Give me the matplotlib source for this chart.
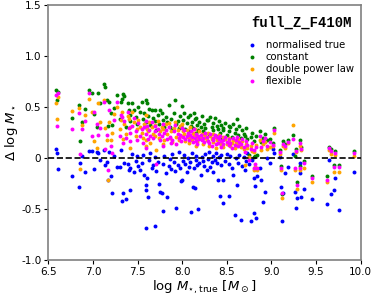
import matplotlib
matplotlib.use("Agg")
import matplotlib.pyplot as plt

# true stellar mass of each galaxy and the offset of each SFH fit
log_mass_true = [
    6.59, 6.60, 6.61, 6.77, 6.84, 6.85, 6.88, 6.91, 6.96, 6.99,
    7.01, 7.04, 7.06, 7.08, 7.12, 7.14, 7.16, 7.17, 7.18, 7.20,
    7.21, 7.24, 7.27, 7.30, 7.32, 7.33, 7.34, 7.35, 7.37, 7.39,
    7.40, 7.42, 7.42, 7.44, 7.46, 7.48, 7.49, 7.51, 7.53, 7.55,
    7.56, 7.57, 7.59, 7.60, 7.60, 7.61, 7.62, 7.63, 7.64, 7.66,
    7.67, 7.69, 7.70, 7.71, 7.73, 7.74, 7.75, 7.77, 7.78, 7.79,
    7.80, 7.82, 7.83, 7.85, 7.86, 7.88, 7.89, 7.91, 7.92, 7.93,
    7.95, 7.96, 7.98, 7.99, 8.00, 8.01, 8.02, 8.03, 8.05, 8.06,
    8.08, 8.09, 8.10, 8.11, 8.12, 8.13, 8.14, 8.15, 8.16, 8.17,
    8.18, 8.19, 8.21, 8.22, 8.23, 8.25, 8.26, 8.28, 8.29, 8.30,
    8.31, 8.33, 8.34, 8.35, 8.37, 8.38, 8.39, 8.40, 8.41, 8.42,
    8.43, 8.44, 8.46, 8.46, 8.48, 8.50, 8.52, 8.53, 8.54, 8.56,
    8.57, 8.59, 8.60, 8.61, 8.62, 8.64, 8.66, 8.67, 8.69, 8.70,
    8.72, 8.73, 8.75, 8.77, 8.78, 8.80, 8.81, 8.82, 8.83, 8.84,
    8.87, 8.88, 8.90, 8.93, 8.95, 8.98, 9.02, 9.03, 9.10, 9.11,
    9.12, 9.13, 9.15, 9.19, 9.24, 9.26, 9.28, 9.29, 9.32, 9.32,
    9.33, 9.37, 9.46, 9.62, 9.65, 9.67, 9.70, 9.71, 9.76, 9.93,
]
d_norm_true = [
    0.09, 0.05, -0.11, -0.18, -0.28, -0.05, 0.02, -0.14, 0.07, 0.07,
    -0.11, 0.06, 0.05, -0.02, 0.08, -0.07, -0.04, -0.22, 0.06, -0.18,
    -0.34, 0.02, -0.09, -0.09, 0.08, -0.42, -0.34, -0.05, -0.40, -0.06,
    -0.12, -0.31, -0.10, 0.04, -0.14, -0.03, 0.02, -0.08, -0.12, -0.05,
    0.03, -0.17, -0.31, -0.26, -0.69, -0.20, -0.38, -0.02, 0.05, -0.10,
    -0.07, 0.01, -0.67, -0.13, -0.04, -0.25, -0.33, -0.34, -0.52, -0.06,
    0.02, -0.15, -0.38, -0.08, -0.01, -0.11, 0.04, -0.04, -0.13, -0.49,
    -0.07, 0.06, -0.10, -0.23, -0.22, -0.03, 0.03, -0.06, -0.14, 0.00,
    -0.09, -0.04, -0.53, 0.05, -0.28, -0.10, -0.29, -0.02, 0.02, -0.07,
    -0.50, -0.05, -0.17, 0.01, -0.03, -0.08, 0.04, -0.12, -0.01, 0.06,
    -0.09, -0.04, 0.02, -0.14, -0.02, 0.05, -0.05, -0.22, 0.01, -0.37,
    -0.07, 0.03, -0.44, -0.22, -0.03, 0.04, -0.37, -0.06, 0.02, -0.10,
    -0.17, -0.56, 0.00, -0.26, -0.05, 0.03, -0.61, -0.08, 0.01, -0.12,
    -0.03, 0.05, -0.06, -0.62, -0.02, -0.20, -0.54, -0.27, -0.59, -0.18,
    -0.10, -0.22, -0.43, -0.33, 0.00, -0.05, 0.09, 0.05, 0.01, -0.28,
    -0.62, -0.34, -0.15, -0.09, 0.04, -0.33, -0.49, -0.39, -0.15, -0.05,
    -0.38, -0.30, -0.40, -0.45, -0.02, -0.35, -0.31, -0.20, -0.51, -0.14,
]
d_constant = [
    0.67, 0.57, 0.65, 0.39, 0.52, 0.17, 0.35, 0.48, 0.67, 0.64,
    0.43, 0.30, 0.64, 0.54, 0.73, 0.70, 0.57, 0.31, 0.55, 0.44,
    0.32, 0.49, 0.62, 0.38, 0.55, 0.58, 0.63, 0.61, 0.30, 0.54,
    0.47, 0.42, 0.36, 0.54, 0.47, 0.40, 0.33, 0.50, 0.45, 0.55,
    0.38, 0.44, 0.35, 0.57, 0.30, 0.54, 0.41, 0.48, 0.32, 0.47,
    0.39, 0.47, 0.36, 0.27, 0.42, 0.33, 0.47, 0.44, 0.29, 0.37,
    0.30, 0.40, 0.35, 0.52, 0.30, 0.38, 0.27, 0.44, 0.57, 0.33,
    0.36, 0.29, 0.41, 0.31, 0.51, 0.37, 0.44, 0.28, 0.34, 0.40,
    0.26, 0.42, 0.31, 0.35, 0.29, 0.44, 0.38, 0.25, 0.39, 0.32,
    0.27, 0.35, 0.30, 0.41, 0.26, 0.33, 0.29, 0.37, 0.37, 0.24,
    0.40, 0.30, 0.27, 0.34, 0.39, 0.22, 0.31, 0.28, 0.36, 0.25,
    0.32, 0.20, 0.29, 0.27, 0.34, 0.23, 0.31, 0.26, 0.30, 0.21,
    0.33, 0.25, 0.28, 0.38, 0.23, 0.31, 0.20, 0.27, 0.24, 0.22,
    0.29, 0.19, 0.03, 0.21, 0.25, 0.01, 0.17, 0.02, 0.22, 0.03,
    0.26, 0.16, 0.20, 0.24, 0.18, 0.19, 0.15, 0.29, 0.08, -0.08,
    -0.35, 0.17, 0.14, 0.18, 0.23, 0.02, 0.09, -0.24, 0.18, -0.08,
    0.11, -0.03, -0.18, -0.18, 0.11, 0.09, -0.07, 0.07, -0.07, 0.07,
]
d_double_pl = [
    0.54, 0.38, 0.60, 0.46, 0.49, -0.11, 0.32, 0.42, 0.58, 0.45,
    0.17, 0.10, 0.54, 0.35, 0.57, 0.29, 0.18, -0.22, 0.35, 0.18,
    0.25, 0.43, 0.50, 0.28, 0.37, 0.45, 0.19, 0.33, 0.24, 0.41,
    0.38, 0.30, 0.10, 0.45, 0.35, 0.22, 0.28, 0.37, 0.30, 0.25,
    0.20, 0.33, 0.18, 0.42, 0.12, 0.28, 0.26, 0.35, 0.15, 0.30,
    0.24, 0.22, 0.32, 0.08, 0.36, 0.20, 0.26, 0.30, 0.14, 0.28,
    0.18, 0.33, 0.24, 0.34, 0.20, 0.26, 0.16, 0.29, 0.35, 0.21,
    0.27, 0.18, 0.31, 0.22, 0.33, 0.26, 0.24, 0.17, 0.27, 0.21,
    0.15, 0.30, 0.20, 0.18, 0.25, 0.23, 0.28, 0.12, 0.22, 0.16,
    0.19, 0.26, 0.21, 0.24, 0.14, 0.20, 0.23, 0.18, 0.25, 0.12,
    0.22, 0.19, 0.16, 0.24, 0.21, 0.10, 0.18, 0.20, 0.23, 0.15,
    0.13, 0.16, 0.21, 0.11, 0.19, 0.14, 0.17, 0.20, 0.12, 0.15,
    0.18, 0.10, 0.16, 0.14, 0.19, 0.13, 0.11, 0.17, 0.09, -0.07,
    0.14, 0.10, 0.01, 0.12, 0.07, -0.12, 0.06, -0.09, 0.13, -0.12,
    0.18, 0.08, 0.14, 0.16, 0.09, 0.11, 0.12, 0.25, 0.04, -0.12,
    -0.39, 0.12, 0.10, 0.15, 0.32, -0.12, 0.06, -0.30, 0.12, -0.12,
    0.08, -0.10, -0.24, -0.24, 0.08, 0.04, -0.14, 0.03, -0.14, 0.02,
]
d_flexible = [
    0.62, 0.31, 0.64, 0.28, 0.44, 0.04, 0.28, 0.36, 0.64, 0.22,
    0.45, 0.33, 0.23, 0.29, 0.55, 0.09, 0.23, -0.12, 0.47, 0.12,
    0.05, 0.37, 0.55, 0.22, 0.42, 0.40, 0.15, 0.36, 0.20, 0.45,
    0.29, 0.25, 0.17, 0.31, 0.39, 0.26, 0.18, 0.34, 0.22, 0.28,
    0.15, 0.30, 0.24, 0.36, 0.10, 0.31, 0.19, 0.27, 0.22, 0.35,
    0.20, 0.31, 0.26, -0.06, 0.28, 0.24, 0.18, 0.22, 0.12, 0.33,
    0.25, 0.27, 0.19, 0.30, 0.21, 0.15, 0.18, 0.26, 0.32, 0.14,
    0.24, 0.20, 0.23, 0.17, 0.29, 0.21, 0.27, 0.19, 0.22, 0.25,
    0.18, 0.23, 0.26, 0.21, 0.16, 0.28, 0.20, 0.17, 0.24, 0.14,
    0.22, 0.19, 0.23, 0.18, 0.20, 0.16, 0.25, 0.21, 0.17, 0.15,
    0.24, 0.12, 0.20, 0.18, 0.23, 0.14, 0.21, 0.15, 0.19, 0.22,
    0.17, 0.11, 0.18, 0.14, 0.21, 0.16, 0.13, 0.19, 0.15, 0.10,
    0.20, 0.13, 0.18, 0.21, 0.12, 0.16, 0.14, 0.19, 0.11, 0.06,
    0.17, 0.13, -0.02, 0.09, 0.15, -0.10, 0.08, -0.06, 0.11, -0.10,
    0.22, 0.11, 0.17, 0.20, 0.12, 0.16, 0.13, 0.27, 0.06, -0.10,
    -0.34, 0.14, 0.12, 0.16, 0.19, -0.10, 0.07, -0.26, 0.15, -0.10,
    0.09, -0.05, -0.20, -0.22, 0.10, 0.07, -0.09, 0.05, -0.09, 0.05,
]

fig = plt.figure(figsize=(3.73, 2.96), dpi=100)
ax = fig.add_axes([0.1295, 0.1216, 0.8375, 0.8615])

ms = 8
ax.scatter(log_mass_true, d_norm_true, s=ms, c='blue', lw=0, label='normalised true')
ax.scatter(log_mass_true, d_constant, s=ms, c='green', lw=0, label='constant')
ax.scatter(log_mass_true, d_double_pl, s=ms, c='orange', lw=0, label='double power law')
ax.scatter(log_mass_true, d_flexible, s=ms, c='magenta', lw=0, label='flexible')
ax.axhline(0, color='black', ls='--', lw=1.2, zorder=5)

ax.set_xlim(6.5, 10.0)
ax.set_ylim(-1.0, 1.5)
ax.set_yticks([-1.0, -0.5, 0, 0.5, 1.0, 1.5])
ax.set_yticklabels(['-1.0', '-0.5', '0', '0.5', '1.0', '1.5'])
ax.tick_params(labelsize=7.5, length=3, width=0.8, pad=2)
for sp in ax.spines.values():
    sp.set_color('grey')
    sp.set_linewidth(1.2)

ax.set_xlabel(r'log $M_{\star,\rm true}$ [$M_\odot$]', fontsize=9.5, labelpad=1)
ax.set_ylabel(r'$\Delta$ log $M_\star$', fontsize=9.5, labelpad=1)

ax.text(0.972, 0.929, 'full_Z_F410M', transform=ax.transAxes, ha='right', va='center',
        family='Liberation Mono', weight='bold', fontsize=10)
ax.legend(loc='upper right', bbox_to_anchor=(1.0, 0.89), frameon=False, fontsize=7.2,
          handletextpad=0.9, labelspacing=0.2, borderaxespad=0.3, handlelength=1.0,
          markerscale=1.0)

fig.savefig('out.png', dpi=100)
